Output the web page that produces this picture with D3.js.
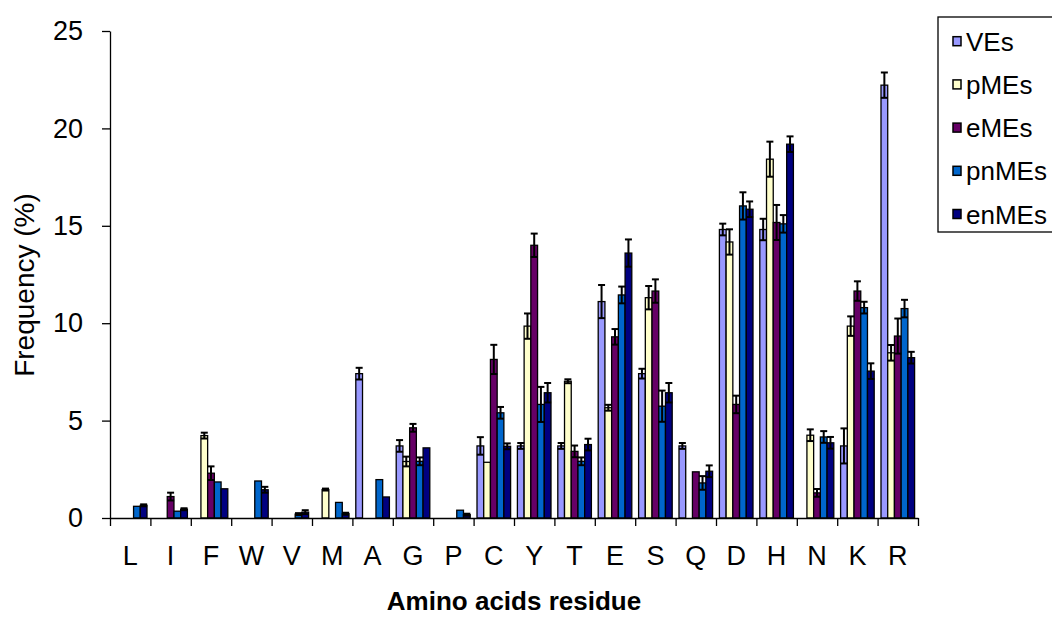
<!DOCTYPE html>
<html>
<head>
<meta charset="utf-8">
<script src="https://cdn.jsdelivr.net/npm/d3@7"></script>
<style>
  body { margin: 0; background: #fff; }
  svg { display: block; font-family: "Liberation Sans", Arial, sans-serif; }
</style>
</head>
<body>
<svg id="chart" width="1052" height="617"></svg>
<script>
// amino acid residues on the x axis
var residues = ["L", "I", "F", "W", "V", "M", "A", "G", "P", "C", "Y", "T", "E", "S", "Q", "D", "H", "N", "K", "R"];
var seriesNames = ["VEs", "pMEs", "eMEs", "pnMEs", "enMEs"];
var seriesColors = ["#9999FF", "#FFFFCC", "#660066", "#0066CC", "#000080"];

// frequency (%) per residue, one array per series
var vesValues   = [0, 0, 0, 0, 0, 0, 7.41, 3.70, 0, 3.70, 3.70, 3.70, 11.11, 7.41, 3.70, 14.81, 14.81, 0, 3.70, 22.22];
var pmesValues  = [0, 0, 4.23, 0, 0, 1.46, 0, 2.90, 0, 2.86, 9.85, 7.02, 5.66, 11.31, 0, 14.17, 18.42, 4.25, 9.85, 8.48];
var emesValues  = [0, 1.10, 2.30, 0, 0, 0, 0, 4.63, 0, 8.14, 14.00, 3.42, 9.30, 11.65, 2.37, 5.83, 15.17, 1.29, 11.65, 9.34];
var pnmesValues = [0.60, 0.35, 1.85, 1.90, 0.20, 0.80, 1.97, 2.91, 0.40, 5.40, 5.83, 2.91, 11.45, 5.74, 1.80, 16.02, 15.10, 4.16, 10.80, 10.75];
var enmesValues = [0.65, 0.45, 1.50, 1.45, 0.30, 0.22, 1.08, 3.60, 0.17, 3.68, 6.43, 3.77, 13.60, 6.43, 2.40, 15.85, 19.19, 3.86, 7.54, 8.23];

// error bar half widths
var vesErr   = [0, 0, 0, 0, 0, 0, 0.30, 0.30, 0, 0.45, 0.15, 0.15, 0.85, 0.25, 0.15, 0.30, 0.55, 0, 0.90, 0.65];
var pmesErr  = [0, 0, 0.15, 0, 0, 0.05, 0, 0.25, 0, 0, 0.65, 0.10, 0.15, 0.60, 0, 0.65, 0.90, 0.30, 0.50, 0.40];
var emesErr  = [0, 0.20, 0.35, 0, 0, 0, 0, 0.20, 0, 0.75, 0.60, 0.30, 0.40, 0.60, 0, 0.45, 0.90, 0.20, 0.50, 0.90];
var pnmesErr = [0, 0, 0, 0, 0.05, 0, 0, 0.20, 0, 0.30, 0.90, 0.20, 0.43, 0.80, 0.35, 0.70, 0.45, 0.30, 0.30, 0.45];
var enmesErr = [0.05, 0.05, 0, 0.15, 0.10, 0.05, 0, 0, 0.05, 0.15, 0.50, 0.30, 0.70, 0.50, 0.30, 0.40, 0.40, 0.30, 0.40, 0.30];

var yTicks = [0, 5, 10, 15, 20, 25];

var allValues = [vesValues, pmesValues, emesValues, pnmesValues, enmesValues];
var allErrors = [vesErr, pmesErr, emesErr, pnmesErr, enmesErr];

var svg = d3.select("#chart");

// plot area edges (note: "top" is taken by window.top)
var plotLeft = 110, plotRight = 918, plotTop = 31, plotBottom = 518;

var x0 = d3.scaleBand().domain(residues).range([plotLeft, plotRight]).padding(0);
var x1 = d3.scaleBand().domain(seriesNames).range([3.4, x0.bandwidth() - 3.4]).padding(0);
var y = d3.scaleLinear().domain([0, 25]).range([plotBottom, plotTop]);
var xEdges = d3.scaleLinear().domain([0, residues.length]).range([plotLeft, plotRight]);

// flatten into one record per bar
var bars = [];
residues.forEach(function (r, i) {
  seriesNames.forEach(function (s, j) {
    bars.push({ residue: r, series: s, color: seriesColors[j], value: allValues[j][i], err: allErrors[j][i] });
  });
});

function barMid(d) {
  return x0(d.residue) + x1(d.series) + x1.bandwidth() / 2;
}

// y axis
var yAxis = svg.append("g")
  .attr("transform", "translate(" + plotLeft + ",0)")
  .call(d3.axisLeft(y).tickValues(yTicks).tickSize(8).tickSizeOuter(0).tickPadding(19));
yAxis.selectAll("text").style("font-size", "27px").attr("fill", "#000");
yAxis.selectAll("line, path").attr("stroke", "#000").attr("stroke-width", 1.3);

// bars
svg.append("g").selectAll("rect")
  .data(bars)
  .enter().append("rect")
  .attr("x", function (d) { return x0(d.residue) + x1(d.series); })
  .attr("y", function (d) { return y(d.value); })
  .attr("width", x1.bandwidth())
  .attr("height", function (d) { return y(0) - y(d.value); })
  .attr("fill", function (d) { return d.color; })
  .attr("stroke", "#000")
  .attr("stroke-width", 1.3);

// error bars
var withErr = bars.filter(function (d) { return d.err > 0; });
var eb = svg.append("g").selectAll("g")
  .data(withErr)
  .enter().append("g")
  .attr("stroke", "#000")
  .attr("stroke-width", 2);
eb.append("line")
  .attr("x1", barMid)
  .attr("x2", barMid)
  .attr("y1", function (d) { return y(d.value - d.err); })
  .attr("y2", function (d) { return y(d.value + d.err); });
[-1, 1].forEach(function (sign) {
  eb.append("line")
    .attr("x1", function (d) { return barMid(d) - 3.5; })
    .attr("x2", function (d) { return barMid(d) + 3.5; })
    .attr("y1", function (d) { return y(d.value + sign * d.err); })
    .attr("y2", function (d) { return y(d.value + sign * d.err); });
});

// x axis: ticks between categories, labels centred
var xTickAxis = svg.append("g")
  .attr("transform", "translate(0," + plotBottom + ")")
  .call(d3.axisBottom(xEdges).tickValues(d3.range(residues.length + 1)).tickSize(8).tickSizeOuter(0).tickFormat(""));
xTickAxis.selectAll("line, path").attr("stroke", "#000").attr("stroke-width", 1.3);

var xLabelAxis = svg.append("g")
  .attr("transform", "translate(0," + plotBottom + ")")
  .call(d3.axisBottom(x0).tickSize(0).tickSizeOuter(0));
xLabelAxis.select(".domain").remove();
xLabelAxis.selectAll("text")
  .attr("y", 47).attr("dy", null)
  .style("font-size", "27px").attr("fill", "#000");

// axis titles
svg.append("text")
  .attr("transform", "translate(34,285) rotate(-90)")
  .attr("text-anchor", "middle")
  .style("font-size", "28px")
  .text("Frequency (%)");

svg.append("text")
  .attr("x", (plotLeft + plotRight) / 2)
  .attr("y", 610)
  .attr("text-anchor", "middle")
  .style("font-size", "26px")
  .style("font-weight", "bold")
  .text("Amino acids residue");

// legend
var legend = svg.append("g");
legend.append("rect")
  .attr("x", 938).attr("y", 17).attr("width", 130).attr("height", 215)
  .attr("fill", "#fff").attr("stroke", "#000").attr("stroke-width", 1.3);
var items = legend.selectAll("g.item")
  .data(seriesNames)
  .enter().append("g")
  .attr("class", "item")
  .attr("transform", function (d, i) { return "translate(953," + (41.7 + i * 43.2) + ")"; });
items.append("rect")
  .attr("x", 0).attr("y", -5).attr("width", 8).attr("height", 9)
  .attr("fill", function (d, i) { return seriesColors[i]; })
  .attr("stroke", "#000").attr("stroke-width", 1.5);
items.append("text")
  .attr("x", 13).attr("y", 9)
  .style("font-size", "26px")
  .text(function (d) { return d; });
</script>
</body>
</html>
